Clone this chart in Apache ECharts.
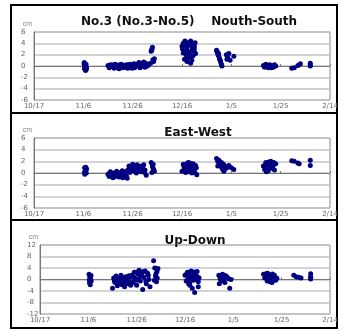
<!DOCTYPE html>
<html lang="en">
<head>
    <meta charset="UTF-8">
    <title>No.3 displacement</title>
    <script src="https://cdn.jsdelivr.net/npm/echarts@6/dist/echarts.min.js"></script>
    <style>
        html, body, #main {
            width: 343px;
            height: 331px;
            padding: 0;
            margin: 0;
            background: #fff;
        }
    </style>
</head>
<body>
<div id="main"></div>
<script>
    // x values are days counted from 10/17
    var dateLabels = ["10/17", "11/6", "11/26", "12/16", "1/5", "1/25", "2/14"];
    var panelTitles = ["No.3 (No.3-No.5)    Nouth-South", "East-West", "Up-Down"];

    var northSouth = [
        [20.3, 0.4], [20.5, 0.2], [20.8, 0], [21, -0.2], [20.6, -0.4], [21.2, -0.6], [20.9, -0.8], [20.4, 0.6],
        [21.1, 0.3], [20.7, -0.1], [21.3, -0.3], [20.5, -0.5],
        [30, 0.1], [30.5, -0.3], [31, 0.2], [31.5, -0.1], [32, 0], [32.5, -0.4], [33, 0.3], [33.5, -0.2],
        [34, 0.1], [34.5, -0.5], [35, 0], [35.5, 0.3], [36, -0.3], [36.5, 0.1], [37, -0.1], [37.5, 0.2],
        [38, -0.4], [38.5, 0], [39, 0.3], [39.5, -0.2], [40, 0.1], [40.5, 0.4], [41, -0.1], [41.5, 0.2],
        [42, 0], [42.5, 0.6], [43, -0.3], [43.5, 0.3], [44, 0.1], [44.5, 0.7], [45, -0.2], [45.5, 0.4], [46, 0],
        [30.8, -0.1], [32.2, 0.2], [33.8, -0.3], [35.2, 0.2], [36.8, -0.2], [38.2, 0.2], [39.8, -0.4], [41.2, 0.3],
        [42.8, 0.1], [44.2, -0.1], [45.2, 0.5], [43.2, 0.5], [40.8, -0.3], [37.8, 0], [34.8, 0.2],
        [47.5, 2.6], [47.8, 3], [48, 3.3], [47.7, 2.8], [48.2, 1.1], [48.5, 0.8], [47.3, 0.5], [48.8, 1.3], [46.5, 0.3],
        [60, 3.5], [60.5, 4], [61, 2.5], [61.5, 4.2], [62, 3.2], [62.5, 2], [63, 3.8], [63.5, 4.4], [64, 2.8],
        [64.5, 4], [65, 3.5], [65.5, 2.2], [61, 1.2], [62, 0.8], [62.5, 1.5], [63.5, 0.5], [64, 1], [63, 2.2],
        [64.5, 1.8], [60.5, 2.3], [65, 3], [61.5, 3.6], [62.8, 4.1], [64.2, 3.3], [60.2, 3], [61.2, 4.4],
        [63.8, 3.6], [65.3, 4.1], [62.2, 2.7], [61.8, 1.9], [63.2, 1.6], [64.8, 2.6],
        [74, 2.8], [74.3, 2.4], [74.6, 2], [75, 1.6], [75.3, 1.2], [75.6, 0.8], [75.9, 0.4], [76.2, 0],
        [74.8, 2.2], [75.5, 1], [74.2, 2.6], [76, 0.2],
        [78, 2], [78.5, 1.5], [79, 2.2], [79.5, 1], [81, 1.7], [78.2, 1.2],
        [93, 0.1], [93.5, -0.2], [94, 0.3], [94.5, 0], [95, -0.3], [95.5, 0.2], [96, -0.1], [96.5, 0.1],
        [97, -0.2], [97.5, 0.2], [98, 0], [94.2, -0.1], [95.2, 0.1], [96.2, -0.3], [97.2, 0],
        [104.5, -0.4], [105.5, -0.3], [107, 0.1], [108, 0.4],
        [112, 0.5], [112, 0], [112, 0.2]
    ];

    var eastWest = [
        [20.5, 0.9], [21, 0.6], [20.8, 0.3], [21.2, 0], [20.6, -0.2], [21, 1], [20.4, 0.1], [21.3, 0.7],
        [30, -0.2], [30.5, -0.6], [31, 0.2], [31.5, -0.4], [32, -0.8], [32.5, 0], [33, -0.5], [33.5, 0.3],
        [34, -0.2], [34.5, -0.7], [35, 0.1], [35.5, -0.4], [36, -0.8], [36.5, 0.2], [37, -0.3], [37.5, -0.6],
        [30.8, 0.1], [31.8, -0.1], [32.8, -0.6], [33.8, 0], [34.8, -0.4], [35.8, 0.4], [36.8, -0.1], [37.8, -0.9],
        [38, 0.5], [38.5, 1.2], [39, 0.2], [39.5, 0.8], [40, 1.5], [40.5, 0.4], [41, 1], [41.5, 0],
        [42, 1.3], [42.5, 0.6], [43, 1.1], [43.5, 0.2], [44, 0.9], [44.5, 1.4], [45, 0.5], [45.5, -0.4],
        [38.8, 0.1], [39.8, 1.1], [40.8, 0.7], [41.8, 1.4], [42.8, 0.3], [43.8, 1.2], [44.8, 0.1],
        [47.5, 1.8], [48, 1.2], [48.5, 0.6], [48.8, 0.3], [48.2, 0.9], [47.8, 0.1], [48.3, 1.5],
        [60, 0.3], [60.5, 1.5], [61, 0.8], [61.5, 0.1], [62, 1.2], [62.5, 1.8], [63, 0.5], [63.5, 1],
        [64, 0], [64.5, 1.6], [65, 0.7], [65.5, 1.3], [66, -0.3], [60.8, 1.1], [61.8, 1.6], [62.8, 0.2],
        [63.8, 1.4], [64.8, 0.4], [65.8, 0.9], [61.2, 0.4], [63.2, 1.7], [65.2, 0.1], [62.2, 0.7],
        [74, 2.5], [74.5, 2], [75, 1.7], [75.5, 1.4], [76, 1], [76.5, 0.6], [77, 0.3], [77.5, 1.2],
        [78, 0.8], [79, 1.3], [80, 0.9], [81, 0.6], [75, 2.2], [76, 1.8], [74.5, 1.2], [76.8, 1.5],
        [93, 1.2], [93.5, 0.6], [94, 1.8], [94.5, 1], [95, 0.4], [95.5, 1.5], [96, 2], [96.5, 0.8],
        [97, 1.3], [97.5, 0.5], [98, 1.6], [94.2, 0.2], [95.2, 1.9], [96.2, 1.1], [97.2, 1.8], [93.8, 1.4],
        [104.5, 2.1], [105.5, 2], [107, 1.7], [107.5, 1.6],
        [112, 2.2], [112, 1.3]
    ];

    var upDown = [
        [20.3, 1.8], [20.6, 1], [20.9, 0.3], [21.2, -0.5], [20.5, -1.2], [20.8, -1.8], [21.1, 1.4], [20.4, -0.2],
        [30, -3], [30.5, 0.5], [31, -1], [31.5, 1.2], [32, -2.2], [32.5, 0], [33, -0.8], [33.5, 1.5],
        [34, -1.8], [34.5, 0.3], [35, -2.5], [35.5, 1], [36, -0.5], [36.5, -1.5], [37, 0.8], [37.5, -2],
        [30.8, -0.4], [31.8, 0.4], [32.8, -1.5], [33.8, 0.9], [34.8, -1], [35.8, 0.1], [36.8, 1.3], [37.8, -0.8],
        [38, 1.5], [38.5, -1], [39, 2.5], [39.5, 0.3], [40, -2], [40.5, 1.8], [41, 3.2], [41.5, -0.5],
        [42, 2], [42.5, -3.5], [43, 0.8], [43.5, 3], [44, -1.5], [44.5, 2.2], [45, 0], [45.5, -2.5],
        [38.8, 0.8], [39.8, -0.3], [40.8, 0.2], [41.8, 1.2], [42.8, 2.8], [43.8, -0.6], [44.8, 1.5], [40.2, 2.6],
        [47, 6.5], [47.5, 4], [48, 2], [48.5, 0.5], [48.2, -0.8], [47.8, 1.2], [48.8, 3.8], [47.3, -0.3], [48.4, 2.8],
        [60, 1.5], [60.5, -0.5], [61, 2.5], [61.5, 0.5], [62, -1], [62.5, 3], [63, 1], [63.5, -0.3],
        [64, 2], [64.5, 0], [65, 2.8], [65.5, -0.8], [60.8, 2.2], [61.8, 1.8], [62.8, 0.2], [63.8, 2.6],
        [64.8, 1.2], [65.8, 0.6], [61.2, -0.2], [63.2, 1.6],
        [62, -2], [63, -3], [64, -4.5], [65.5, -2.5], [61.5, -1.5],
        [74, 1.5], [74.5, 0.5], [75, -0.5], [75.5, 1.8], [76, 0], [76.5, -1], [77, 1.2], [77.5, 0.8],
        [78, 0.3], [79, 0], [74.2, -1.5], [75.2, 1], [76.2, 1.5], [78.5, -3], [74.8, -0.2],
        [92.5, 1.8], [93, 0.5], [93.5, 2], [94, -0.5], [94.5, 1.2], [95, 0], [95.5, 1.6], [96, -1],
        [96.5, 0.8], [97, 1.5], [97.5, -0.3], [98, 0.4], [94.2, 2.2], [95.2, -0.8], [96.2, 1.9], [97.2, 0.2],
        [105, 1.5], [106, 1], [107, 0.8], [108, 0.5],
        [112, 2], [112, 1], [112, 0.2], [112, 0.6]
    ];

    var chart = echarts.init(document.getElementById("main"));

    var labelStyle = {color: "#666", fontSize: 7, fontFamily: "DejaVu Sans"};

    function xAxisFor(i) {
        return {
            type: "value", gridIndex: i, min: 0, max: 120, interval: 20,
            axisLine: {lineStyle: {color: "#777", width: 1}},
            axisTick: {show: true, inside: true, length: 2, lineStyle: {color: "#777"}},
            splitLine: {show: false},
            axisLabel: {
                show: true, margin: 3, color: "#666", fontSize: 7, fontFamily: "DejaVu Sans",
                formatter: function (v) { return dateLabels[Math.round(v / 20)]; }
            }
        };
    }

    function yAxisFor(i, lim, step) {
        return {
            type: "value", gridIndex: i, min: -lim, max: lim, interval: step,
            name: "cm", nameLocation: "end", nameGap: 4,
            nameTextStyle: {color: "#888", fontSize: 7, align: "right", padding: [0, 2, 0, 0]},
            axisLine: {show: true, lineStyle: {color: "#777"}},
            axisTick: {show: false},
            splitLine: {show: true, lineStyle: {color: "#c4c4c4", width: 1.5}},
            axisLabel: Object.assign({margin: 13, align: "left"}, labelStyle)
        };
    }

    function seriesFor(i, data) {
        return {
            type: "scatter", xAxisIndex: i, yAxisIndex: i, data: data,
            symbolSize: 5, itemStyle: {color: "#000080", opacity: 1}, silent: true
        };
    }

    var titleFont = {fontSize: 12, fontWeight: "bold", color: "#111", fontFamily: "DejaVu Sans"};

    chart.setOption({
        animation: false,
        backgroundColor: "#fff",
        title: [
            {text: panelTitles[0], left: 184, top: 11, textAlign: "center", textStyle: titleFont},
            {text: panelTitles[1], left: 193, top: 122, textAlign: "center", textStyle: titleFont},
            {text: panelTitles[2], left: 190, top: 230, textAlign: "center", textStyle: titleFont}
        ],
        grid: [
            {left: 34, top: 32, width: 296, height: 68, show: true, borderColor: "#888", borderWidth: 1},
            {left: 34, top: 138, width: 296, height: 70, show: true, borderColor: "#888", borderWidth: 1},
            {left: 40, top: 245, width: 290, height: 69, show: true, borderColor: "#888", borderWidth: 1}
        ],
        xAxis: [xAxisFor(0), xAxisFor(1), xAxisFor(2)],
        yAxis: [yAxisFor(0, 6, 2), yAxisFor(1, 6, 2), yAxisFor(2, 12, 4)],
        series: [seriesFor(0, northSouth), seriesFor(1, eastWest), seriesFor(2, upDown)],
        graphic: [
            {type: "rect", shape: {x: 11, y: 5, width: 326, height: 323}, style: {fill: null, stroke: "#000", lineWidth: 2}},
            {type: "line", shape: {x1: 11, y1: 113, x2: 337, y2: 113}, style: {stroke: "#000", lineWidth: 2}},
            {type: "line", shape: {x1: 11, y1: 220, x2: 337, y2: 220}, style: {stroke: "#000", lineWidth: 2}}
        ]
    });
</script>
</body>
</html>
